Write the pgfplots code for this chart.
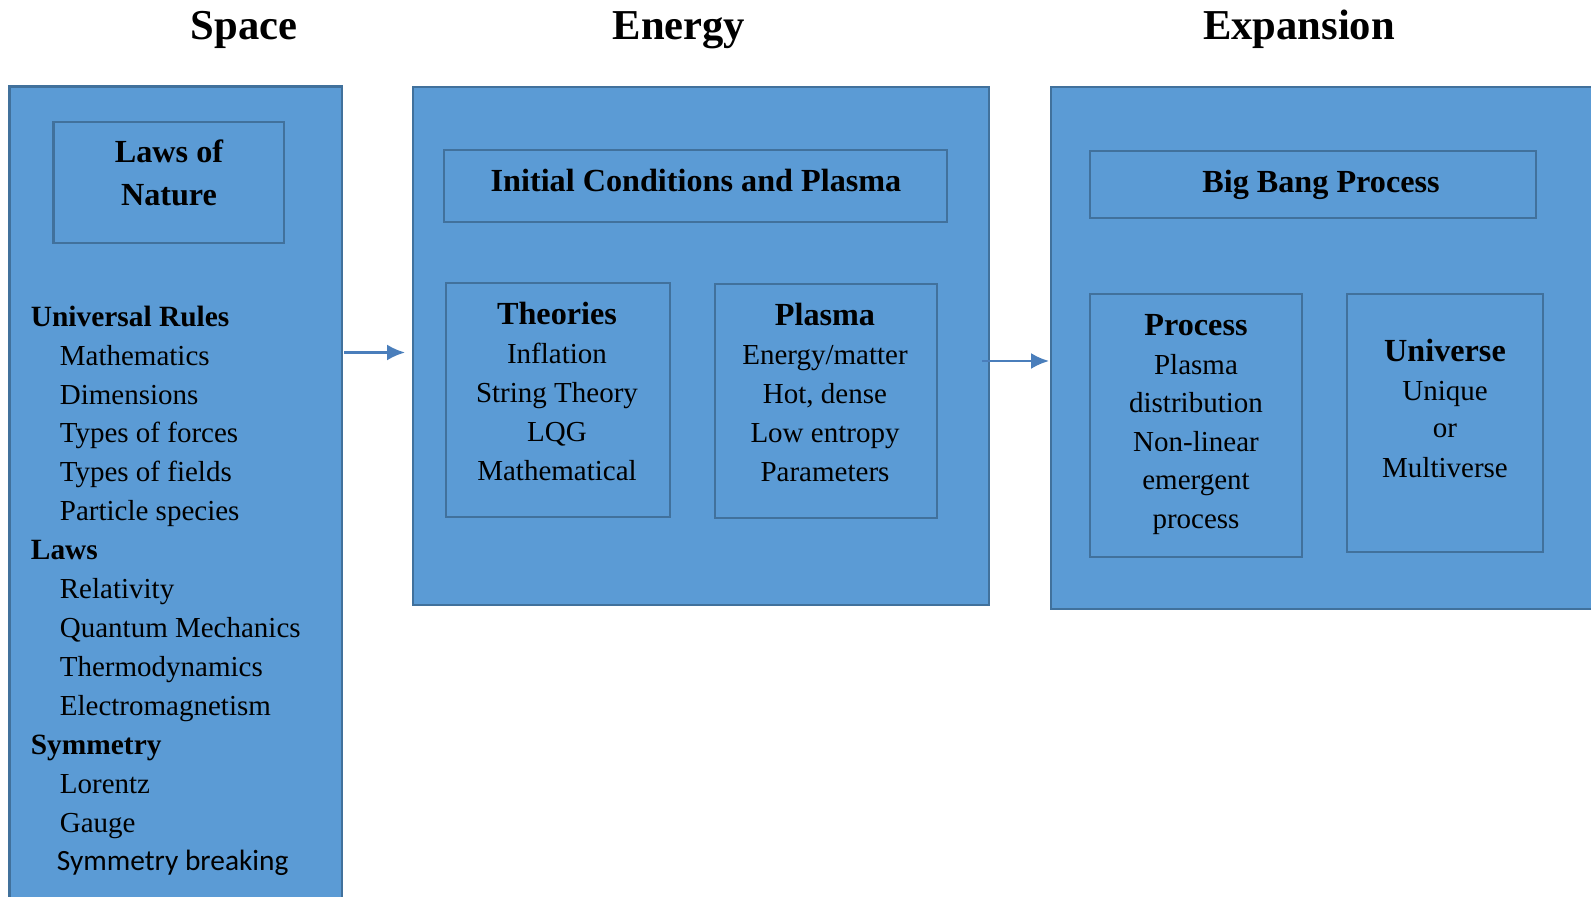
\documentclass[border=0pt]{standalone}
\usepackage{fontspec}
\setmainfont{Liberation Serif}
\newfontfamily\calibri{Carlito}
\usepackage{pgfplots}
\pgfplotsset{compat=1.18}
\usetikzlibrary{arrows.meta}
\definecolor{BoxFill}{HTML}{5B9BD5}
\definecolor{BoxEdge}{HTML}{41719C}
\definecolor{ArrowCol}{HTML}{4A7EBB}
\newcommand{\titlefont}{\fontsize{21.3}{25}\selectfont\bfseries}
\newcommand{\headfont}{\fontsize{16.1}{20}\selectfont\bfseries}
\newcommand{\itemfont}{\fontsize{14.5}{19.5}\selectfont}
\newcommand{\itembfont}{\fontsize{14.7}{19.5}\selectfont\bfseries}
\begin{document}
\begin{tikzpicture}
  \begin{axis}[
      width=795.5pt, height=448.5pt, scale only axis,
      xmin=0, xmax=1591, ymin=0, ymax=897,
      y dir=reverse,
      hide axis,
      clip=true,
      box/.style={fill=BoxFill, draw=BoxEdge, line width=1.3pt},
      inbox/.style={draw=BoxEdge, line width=1.3pt},
      arr/.style={ArrowCol, line width=1.2pt, -{Latex[length=9pt,width=8pt]}},
    ]
    \addplot[draw=none] coordinates {(0,0) (1591,897)};
    % outer boxes
    \addplot[box] coordinates {(9.5,86.5) (342,86.5) (342,900) (9.5,900)} --cycle;
    \addplot[box] coordinates {(413,87) (989,87) (989,605) (413,605)} --cycle;
    \addplot[box] coordinates {(1051,87) (1600,87) (1600,609) (1051,609)} --cycle;
    % inner boxes
    \addplot[inbox] coordinates {(53.5,122) (284,122) (284,243) (53.5,243)} --cycle;
    \addplot[inbox] coordinates {(444,150) (947,150) (947,222) (444,222)} --cycle;
    \addplot[inbox] coordinates {(446,283) (670,283) (670,517) (446,517)} --cycle;
    \addplot[inbox] coordinates {(715,284) (937,284) (937,518) (715,518)} --cycle;
    \addplot[inbox] coordinates {(1090,151) (1536,151) (1536,218) (1090,218)} --cycle;
    \addplot[inbox] coordinates {(1090,294) (1302,294) (1302,557) (1090,557)} --cycle;
    \addplot[inbox] coordinates {(1347,294) (1543,294) (1543,552) (1347,552)} --cycle;
    % arrows
    \addplot[arr] coordinates {(344,352.5) (405,352.5)};
    \addplot[arr] coordinates {(982,361) (1049,361)};

    % titles
    \node[anchor=base, font=\titlefont] at (axis cs:244,40) {Space};
    \node[anchor=base, font=\titlefont] at (axis cs:679,40) {Energy};
    \node[anchor=base, font=\titlefont] at (axis cs:1299,40) {Expansion};

    % Space column
    \node[anchor=base, font=\headfont] at (axis cs:169,162.5) {Laws of};
    \node[anchor=base, font=\headfont] at (axis cs:169,205.5) {Nature};
    \foreach \t/\k/\s in {Universal Rules/0/b, Mathematics/1/r, Dimensions/2/r,
        Types of forces/3/r, Types of fields/4/r, Particle species/5/r,
        Laws/6/b, Relativity/7/r, Quantum Mechanics/8/r, Thermodynamics/9/r,
        Electromagnetism/10/r, Symmetry/11/b, Lorentz/12/r, Gauge/13/r} {
      \if b\s
        \edef\temp{\noexpand\node[anchor=base west, font=\noexpand\itembfont, inner sep=0pt] at (axis cs:30.5,326.3+38.9*\k) {\t};}
      \else
        \edef\temp{\noexpand\node[anchor=base west, font=\noexpand\itemfont, inner sep=0pt] at (axis cs:59.5,326.3+38.9*\k) {\t};}
      \fi
      \temp
    }
    \node[anchor=base west, font=\calibri\fontsize{14.7}{17}\selectfont, inner sep=0pt] at (axis cs:56.5,326.3+38.9*14) {Symmetry breaking};

    % Energy column
    \node[anchor=base, font=\headfont] at (axis cs:696,191.5) {Initial Conditions and Plasma};
    \node[anchor=base, font=\headfont] at (axis cs:557,324.5) {Theories};
    \node[anchor=base, font=\itemfont] at (axis cs:557,363.5) {Inflation};
    \node[anchor=base, font=\itemfont] at (axis cs:557,402.5) {String Theory};
    \node[anchor=base, font=\itemfont] at (axis cs:557,441.5) {LQG};
    \node[anchor=base, font=\itemfont] at (axis cs:557,480.5) {Mathematical};
    \node[anchor=base, font=\headfont] at (axis cs:825,325.8) {Plasma};
    \node[anchor=base, font=\itemfont] at (axis cs:825,364.8) {Energy/matter};
    \node[anchor=base, font=\itemfont] at (axis cs:825,403.8) {Hot, dense};
    \node[anchor=base, font=\itemfont] at (axis cs:825,442.8) {Low entropy};
    \node[anchor=base, font=\itemfont] at (axis cs:825,481.8) {Parameters};

    % Expansion column
    \node[anchor=base, font=\headfont] at (axis cs:1321,192.8) {Big Bang Process};
    \node[anchor=base, font=\headfont] at (axis cs:1196,335.8) {Process};
    \node[anchor=base, font=\itemfont] at (axis cs:1196,374.1) {Plasma};
    \node[anchor=base, font=\itemfont] at (axis cs:1196,412.5) {distribution};
    \node[anchor=base, font=\itemfont] at (axis cs:1196,451.8) {Non-linear};
    \node[anchor=base, font=\itemfont] at (axis cs:1196,489.8) {emergent};
    \node[anchor=base, font=\itemfont] at (axis cs:1196,528.8) {process};
    \node[anchor=base, font=\headfont] at (axis cs:1445,361.5) {Universe};
    \node[anchor=base, font=\itemfont] at (axis cs:1445,400.8) {Unique};
    \node[anchor=base, font=\itemfont] at (axis cs:1445,437.8) {or};
    \node[anchor=base, font=\itemfont] at (axis cs:1445,477.8) {Multiverse};
  \end{axis}
\end{tikzpicture}
\end{document}
